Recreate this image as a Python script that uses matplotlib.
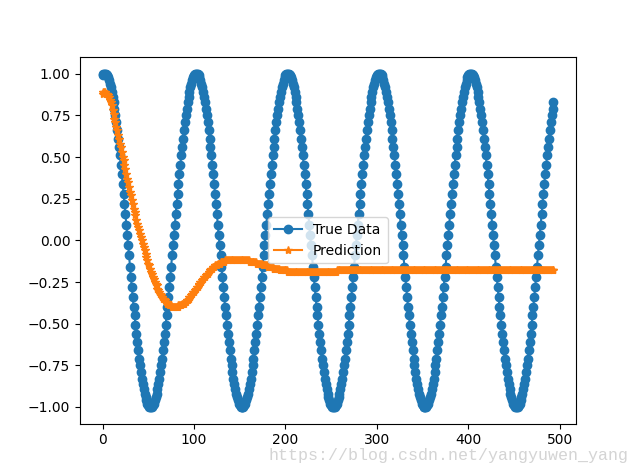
import matplotlib
matplotlib.use("Agg")
import matplotlib.pyplot as plt

# values, one per sample index
true_data = [
    0.99, 1.00, 1.00, 1.00, 1.00, 0.99, 0.98, 0.96, 0.94, 0.92,
    0.89, 0.86, 0.83, 0.79, 0.75, 0.71, 0.66, 0.61, 0.56, 0.51,
    0.45, 0.40, 0.34, 0.28, 0.22, 0.16, 0.09, 0.03, -0.03, -0.09,
    -0.16, -0.22, -0.28, -0.34, -0.40, -0.45, -0.51, -0.56, -0.61, -0.66,
    -0.71, -0.75, -0.79, -0.83, -0.86, -0.89, -0.92, -0.94, -0.96, -0.98,
    -0.99, -1.00, -1.00, -1.00, -1.00, -0.99, -0.98, -0.96, -0.94, -0.92,
    -0.89, -0.86, -0.83, -0.79, -0.75, -0.71, -0.66, -0.61, -0.56, -0.51,
    -0.45, -0.40, -0.34, -0.28, -0.22, -0.16, -0.09, -0.03, 0.03, 0.09,
    0.16, 0.22, 0.28, 0.34, 0.40, 0.45, 0.51, 0.56, 0.61, 0.66,
    0.71, 0.75, 0.79, 0.83, 0.86, 0.89, 0.92, 0.94, 0.96, 0.98,
    0.99, 1.00, 1.00, 1.00, 1.00, 0.99, 0.98, 0.96, 0.94, 0.92,
    0.89, 0.86, 0.83, 0.79, 0.75, 0.71, 0.66, 0.61, 0.56, 0.51,
    0.45, 0.40, 0.34, 0.28, 0.22, 0.16, 0.09, 0.03, -0.03, -0.09,
    -0.16, -0.22, -0.28, -0.34, -0.40, -0.45, -0.51, -0.56, -0.61, -0.66,
    -0.71, -0.75, -0.79, -0.83, -0.86, -0.89, -0.92, -0.94, -0.96, -0.98,
    -0.99, -1.00, -1.00, -1.00, -1.00, -0.99, -0.98, -0.96, -0.94, -0.92,
    -0.89, -0.86, -0.83, -0.79, -0.75, -0.71, -0.66, -0.61, -0.56, -0.51,
    -0.45, -0.40, -0.34, -0.28, -0.22, -0.16, -0.09, -0.03, 0.03, 0.09,
    0.16, 0.22, 0.28, 0.34, 0.40, 0.45, 0.51, 0.56, 0.61, 0.66,
    0.71, 0.75, 0.79, 0.83, 0.86, 0.89, 0.92, 0.94, 0.96, 0.98,
    0.99, 1.00, 1.00, 1.00, 1.00, 0.99, 0.98, 0.96, 0.94, 0.92,
    0.89, 0.86, 0.83, 0.79, 0.75, 0.71, 0.66, 0.61, 0.56, 0.51,
    0.45, 0.40, 0.34, 0.28, 0.22, 0.16, 0.09, 0.03, -0.03, -0.09,
    -0.16, -0.22, -0.28, -0.34, -0.40, -0.45, -0.51, -0.56, -0.61, -0.66,
    -0.71, -0.75, -0.79, -0.83, -0.86, -0.89, -0.92, -0.94, -0.96, -0.98,
    -0.99, -1.00, -1.00, -1.00, -1.00, -0.99, -0.98, -0.96, -0.94, -0.92,
    -0.89, -0.86, -0.83, -0.79, -0.75, -0.71, -0.66, -0.61, -0.56, -0.51,
    -0.45, -0.40, -0.34, -0.28, -0.22, -0.16, -0.09, -0.03, 0.03, 0.09,
    0.16, 0.22, 0.28, 0.34, 0.40, 0.45, 0.51, 0.56, 0.61, 0.66,
    0.71, 0.75, 0.79, 0.83, 0.86, 0.89, 0.92, 0.94, 0.96, 0.98,
    0.99, 1.00, 1.00, 1.00, 1.00, 0.99, 0.98, 0.96, 0.94, 0.92,
    0.89, 0.86, 0.83, 0.79, 0.75, 0.71, 0.66, 0.61, 0.56, 0.51,
    0.45, 0.40, 0.34, 0.28, 0.22, 0.16, 0.09, 0.03, -0.03, -0.09,
    -0.16, -0.22, -0.28, -0.34, -0.40, -0.45, -0.51, -0.56, -0.61, -0.66,
    -0.71, -0.75, -0.79, -0.83, -0.86, -0.89, -0.92, -0.94, -0.96, -0.98,
    -0.99, -1.00, -1.00, -1.00, -1.00, -0.99, -0.98, -0.96, -0.94, -0.92,
    -0.89, -0.86, -0.83, -0.79, -0.75, -0.71, -0.66, -0.61, -0.56, -0.51,
    -0.45, -0.40, -0.34, -0.28, -0.22, -0.16, -0.09, -0.03, 0.03, 0.09,
    0.16, 0.22, 0.28, 0.34, 0.40, 0.45, 0.51, 0.56, 0.61, 0.66,
    0.71, 0.75, 0.79, 0.83, 0.86, 0.89, 0.92, 0.94, 0.96, 0.98,
    0.99, 1.00, 1.00, 1.00, 1.00, 0.99, 0.98, 0.96, 0.94, 0.92,
    0.89, 0.86, 0.83, 0.79, 0.75, 0.71, 0.66, 0.61, 0.56, 0.51,
    0.45, 0.40, 0.34, 0.28, 0.22, 0.16, 0.09, 0.03, -0.03, -0.09,
    -0.16, -0.22, -0.28, -0.34, -0.40, -0.45, -0.51, -0.56, -0.61, -0.66,
    -0.71, -0.75, -0.79, -0.83, -0.86, -0.89, -0.92, -0.94, -0.96, -0.98,
    -0.99, -1.00, -1.00, -1.00, -1.00, -0.99, -0.98, -0.96, -0.94, -0.92,
    -0.89, -0.86, -0.83, -0.79, -0.75, -0.71, -0.66, -0.61, -0.56, -0.51,
    -0.45, -0.40, -0.34, -0.28, -0.22, -0.16, -0.09, -0.03, 0.03, 0.09,
    0.16, 0.22, 0.28, 0.34, 0.40, 0.45, 0.51, 0.56, 0.61, 0.66,
    0.71, 0.75, 0.79, 0.83,
]

prediction = [
    0.88, 0.89, 0.89, 0.89, 0.88, 0.88, 0.87, 0.86, 0.84, 0.83,
    0.81, 0.78, 0.76, 0.73, 0.71, 0.68, 0.66, 0.63, 0.61, 0.58,
    0.56, 0.53, 0.50, 0.48, 0.45, 0.43, 0.40, 0.37, 0.35, 0.32,
    0.29, 0.27, 0.24, 0.22, 0.19, 0.17, 0.15, 0.12, 0.10, 0.08,
    0.06, 0.04, 0.02, 0.00, -0.02, -0.04, -0.06, -0.08, -0.10, -0.12,
    -0.14, -0.15, -0.17, -0.19, -0.20, -0.22, -0.23, -0.25, -0.26, -0.27,
    -0.29, -0.30, -0.31, -0.32, -0.33, -0.34, -0.35, -0.35, -0.36, -0.37,
    -0.37, -0.38, -0.38, -0.39, -0.39, -0.39, -0.40, -0.40, -0.40, -0.40,
    -0.40, -0.40, -0.40, -0.39, -0.39, -0.39, -0.39, -0.38, -0.38, -0.38,
    -0.37, -0.37, -0.36, -0.36, -0.35, -0.34, -0.34, -0.33, -0.32, -0.31,
    -0.31, -0.30, -0.29, -0.28, -0.28, -0.27, -0.26, -0.25, -0.25, -0.24,
    -0.23, -0.22, -0.22, -0.21, -0.20, -0.20, -0.19, -0.18, -0.18, -0.17,
    -0.17, -0.16, -0.16, -0.15, -0.15, -0.15, -0.14, -0.14, -0.14, -0.13,
    -0.13, -0.13, -0.13, -0.13, -0.12, -0.12, -0.12, -0.12, -0.12, -0.12,
    -0.12, -0.12, -0.12, -0.12, -0.12, -0.12, -0.12, -0.12, -0.12, -0.12,
    -0.12, -0.12, -0.12, -0.12, -0.12, -0.12, -0.12, -0.12, -0.12, -0.12,
    -0.12, -0.13, -0.13, -0.13, -0.13, -0.13, -0.13, -0.13, -0.13, -0.14,
    -0.14, -0.14, -0.14, -0.14, -0.14, -0.15, -0.15, -0.15, -0.15, -0.15,
    -0.15, -0.16, -0.16, -0.16, -0.16, -0.16, -0.16, -0.17, -0.17, -0.17,
    -0.17, -0.17, -0.17, -0.17, -0.18, -0.18, -0.18, -0.18, -0.18, -0.18,
    -0.18, -0.18, -0.18, -0.19, -0.19, -0.19, -0.19, -0.19, -0.19, -0.19,
    -0.19, -0.19, -0.19, -0.19, -0.19, -0.19, -0.19, -0.19, -0.19, -0.19,
    -0.19, -0.19, -0.19, -0.19, -0.19, -0.19, -0.19, -0.19, -0.19, -0.19,
    -0.19, -0.19, -0.19, -0.19, -0.19, -0.19, -0.19, -0.19, -0.19, -0.19,
    -0.19, -0.19, -0.19, -0.19, -0.19, -0.19, -0.19, -0.19, -0.19, -0.19,
    -0.19, -0.19, -0.19, -0.19, -0.19, -0.19, -0.18, -0.18, -0.18, -0.18,
    -0.18, -0.18, -0.18, -0.18, -0.18, -0.18, -0.18, -0.18, -0.18, -0.18,
    -0.18, -0.18, -0.18, -0.18, -0.18, -0.18, -0.18, -0.18, -0.18, -0.18,
    -0.18, -0.18, -0.18, -0.18, -0.18, -0.18, -0.18, -0.18, -0.18, -0.18,
    -0.18, -0.18, -0.18, -0.18, -0.18, -0.18, -0.18, -0.18, -0.18, -0.18,
    -0.18, -0.18, -0.18, -0.18, -0.18, -0.18, -0.18, -0.18, -0.18, -0.18,
    -0.18, -0.18, -0.18, -0.18, -0.18, -0.18, -0.18, -0.18, -0.18, -0.18,
    -0.18, -0.18, -0.18, -0.18, -0.18, -0.18, -0.18, -0.18, -0.18, -0.18,
    -0.18, -0.18, -0.18, -0.18, -0.18, -0.18, -0.18, -0.18, -0.18, -0.18,
    -0.18, -0.18, -0.18, -0.18, -0.18, -0.18, -0.18, -0.18, -0.18, -0.18,
    -0.18, -0.18, -0.18, -0.18, -0.18, -0.18, -0.18, -0.18, -0.18, -0.18,
    -0.18, -0.18, -0.18, -0.18, -0.18, -0.18, -0.18, -0.18, -0.18, -0.18,
    -0.18, -0.18, -0.18, -0.18, -0.18, -0.18, -0.18, -0.18, -0.18, -0.18,
    -0.18, -0.18, -0.18, -0.18, -0.18, -0.18, -0.18, -0.18, -0.18, -0.18,
    -0.18, -0.18, -0.18, -0.18, -0.18, -0.18, -0.18, -0.18, -0.18, -0.18,
    -0.18, -0.18, -0.18, -0.18, -0.18, -0.18, -0.18, -0.18, -0.18, -0.18,
    -0.18, -0.18, -0.18, -0.18, -0.18, -0.18, -0.18, -0.18, -0.18, -0.18,
    -0.18, -0.18, -0.18, -0.18, -0.18, -0.18, -0.18, -0.18, -0.18, -0.18,
    -0.18, -0.18, -0.18, -0.18, -0.18, -0.18, -0.18, -0.18, -0.18, -0.18,
    -0.18, -0.18, -0.18, -0.18, -0.18, -0.18, -0.18, -0.18, -0.18, -0.18,
    -0.18, -0.18, -0.18, -0.18, -0.18, -0.18, -0.18, -0.18, -0.18, -0.18,
    -0.18, -0.18, -0.18, -0.18, -0.18, -0.18, -0.18, -0.18, -0.18, -0.18,
    -0.18, -0.18, -0.18, -0.18, -0.18, -0.18, -0.18, -0.18, -0.18, -0.18,
    -0.18, -0.18, -0.18, -0.18, -0.18, -0.18, -0.18, -0.18, -0.18, -0.18,
    -0.18, -0.18, -0.18, -0.18,
]

watermark = "https://blog.csdn.net/yangyuwen_yang"

fig = plt.figure(figsize=(6.4, 4.76), dpi=100)
plt.plot(true_data, marker='o', linestyle='-', label="True Data")
plt.plot(prediction, marker='*', linestyle='-', label="Prediction")
plt.legend(loc='center')

fig.text(268 / 640, 1 - 460 / 476, watermark, family='Liberation Mono',
         fontsize=12, color='#d4d4d4', va='baseline')

plt.savefig("out.png", dpi=100)
